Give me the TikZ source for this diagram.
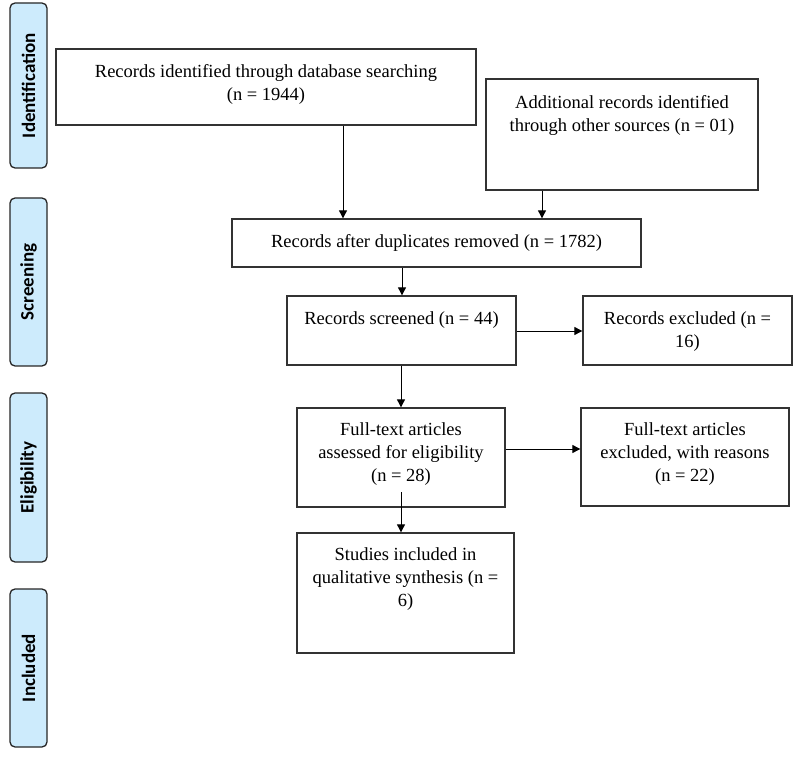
\documentclass[tikz,border=0pt]{standalone}
\usepackage{fontspec}
\setmainfont{Liberation Serif}
\newfontfamily\sidefont{Carlito}
\usetikzlibrary{arrows.meta}
\definecolor{sideblue}{HTML}{CDEBFC}
\definecolor{boxline}{HTML}{333333}
\tikzset{
  box/.style={draw=boxline, line width=1.3pt, rectangle, inner sep=0pt},
  txt/.style={align=center, inner sep=0pt, font=\fontsize{18.5}{23}\selectfont},
  side/.style={draw=black!85, line width=1.3pt, fill=sideblue, rounded corners=5pt, rotate=90,
    minimum height=37pt, inner sep=0pt, font=\sidefont\bfseries\fontsize{19}{22}\selectfont},
  arr/.style={line width=0.9pt, -{Triangle[length=8pt,width=8pt]}}
}
\begin{document}
\begin{tikzpicture}[x=1pt,y=-1pt]
\useasboundingbox (0,0) rectangle (796,762);
% side labels
\node[side, minimum width=165pt] (sid) at (28.5,85.5) {Identification};
\node[side, minimum width=168pt] (sscr) at (28.5,282) {Screening};
\node[side, minimum width=169pt] (selig) at (28.5,477.5) {Eligibility};
\node[side, minimum width=158pt] (sinc) at (28.5,668) {Included};
% boxes
\node[box, minimum width=420pt, minimum height=76pt] (id) at (266,87) {};
\node[box, minimum width=272pt, minimum height=111pt] (add) at (622,134.5) {};
\node[box, minimum width=409pt, minimum height=48pt] (dup) at (436.5,243) {};
\node[box, minimum width=229pt, minimum height=69pt] (scr) at (401.5,330.5) {};
\node[box, minimum width=209pt, minimum height=69pt] (exc) at (687.5,330.5) {};
\node[box, minimum width=208pt, minimum height=99pt] (ass) at (401,457.5) {};
\node[box, minimum width=208pt, minimum height=98pt] (exc2) at (685,457) {};
\node[box, minimum width=217pt, minimum height=120pt] (stu) at (405.5,593) {};
% texts
\node[txt] (tid) at (266,84) {Records identified through database searching\\(n = 1944)};
\node[txt] (tadd) at (622,115.5) {Additional records identified\\through other sources (n = 01)};
\node[txt] (tdup) at (436.5,243) {Records after duplicates removed (n = 1782)};
\node[txt] (tscr) at (401.5,320) {Records screened (n = 44)};
\node[txt] (texc) at (687.5,331.5) {Records excluded (n =\\16)};
\node[txt] (tass) at (401,454.5) {Full-text articles\\assessed for eligibility\\(n = 28)};
\node[txt] (texc2) at (685,454.5) {Full-text articles\\excluded, with reasons\\(n = 22)};
\node[txt] (tstu) at (405.5,579.5) {Studies included in\\qualitative synthesis (n =\\6)};
% connector helpers
\coordinate (x1) at (343,0);
\coordinate (x2) at (542,0);
\coordinate (x3) at (402,0);
\coordinate (x4) at (401,0);
\coordinate (y1) at (0,331);
\coordinate (y2) at (0,449);
\coordinate (s5) at (401,492);
% connectors
\draw[arr] (id.south -| x1) -- (dup.north -| x1);
\draw[arr] (add.south -| x2) -- (dup.north -| x2);
\draw[arr] (dup.south -| x3) -- (scr.north -| x3);
\draw[arr] (scr.east |- y1) -- (exc.west |- y1);
\draw[arr] (scr.south -| x4) -- (ass.north -| x4);
\draw[arr] (ass.east |- y2) -- (exc2.west |- y2);
\draw[arr] (s5) -- (stu.north -| s5);
\end{tikzpicture}
\end{document}
